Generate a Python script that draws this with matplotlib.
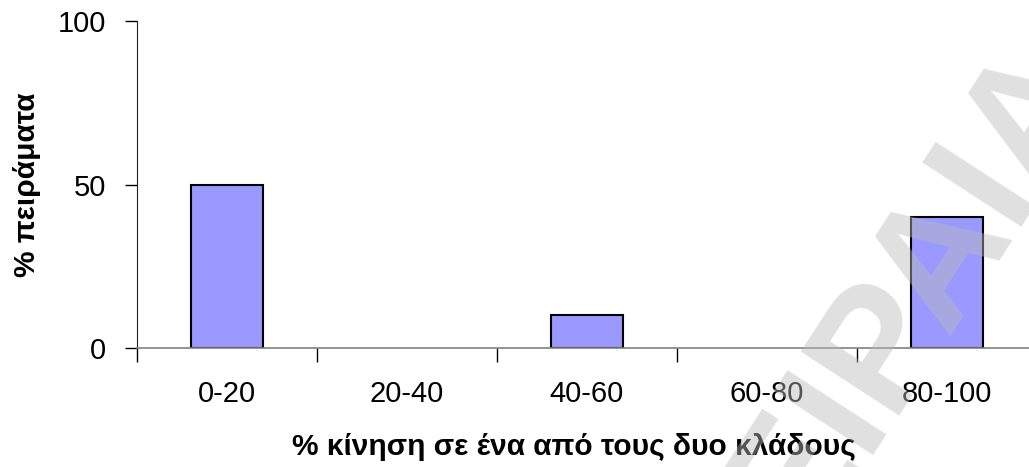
import matplotlib
matplotlib.use('Agg')
from matplotlib import pyplot

# Katanomi peiramaton ana diastima kinisis
kategories = ['0-20', '20-40', '40-60', '60-80', '80-100']
pososta = [50, 0, 10, 0, 40]
y_ticks = [0, 50, 100]

pyplot.rcParams['font.family'] = ['Liberation Sans', 'DejaVu Sans']

fig = pyplot.figure(figsize=(10.29, 4.67), dpi=100)
# axes from pixel 137 to 1037 horizontally, 21 to 348 vertically
ax = fig.add_axes([137/1029, 1 - 348/467, 900/1029, 327/467])

x = list(range(len(kategories)))
# no outline for empty classes (would show as a line over the axis)
akmes = ['black' if p > 0 else 'none' for p in pososta]
ax.bar(x, pososta, width=0.4, color='#9999ff', edgecolor=akmes, linewidth=1.5, zorder=2)

ax.set_xlim(-0.5, len(kategories) - 0.5)
ax.set_ylim(0, 100)
ax.set_yticks(y_ticks)
ax.set_yticklabels([str(v) for v in y_ticks], fontsize=21)

# category ticks sit between the bars, labels in the middle
ax.set_xticks([i - 0.5 for i in range(len(kategories) + 1)])
ax.set_xticklabels([])
ax.set_xticks(x, minor=True)
ax.set_xticklabels(kategories, minor=True, fontsize=21)
ax.tick_params(axis='x', which='major', direction='out', length=10, width=1, color='black')
ax.tick_params(axis='x', which='minor', length=0, pad=23)
ax.tick_params(axis='y', direction='out', length=9, width=1, pad=13)

for pos in ['top', 'right']:
   ax.spines[pos].set_visible(False)
ax.spines['left'].set_color('#222222')
ax.spines['bottom'].set_color('#808080')
ax.spines['bottom'].set_linewidth(1.2)

fig.text(574/1029, 1 - 447/467, '% κίνηση σε ένα από τους δυο κλάδους',
         fontsize=21.5, fontweight='bold', ha='center', va='center')
fig.text(27/1029, 1 - 185/467, '% πειράματα', fontsize=21.5, fontweight='bold',
         ha='center', va='center', rotation=90)

# watermark over the whole figure, baseline starts below the bottom edge
fig.text(733/1029, 1 - 653/467, 'ΠΕΙΡΑΙΑ', fontsize=123, fontweight='bold',
         color=(187/255, 187/255, 187/255), alpha=0.45, rotation=57,
         rotation_mode='anchor', ha='left', va='baseline', zorder=10)

fig.savefig('out.png', dpi=100)
